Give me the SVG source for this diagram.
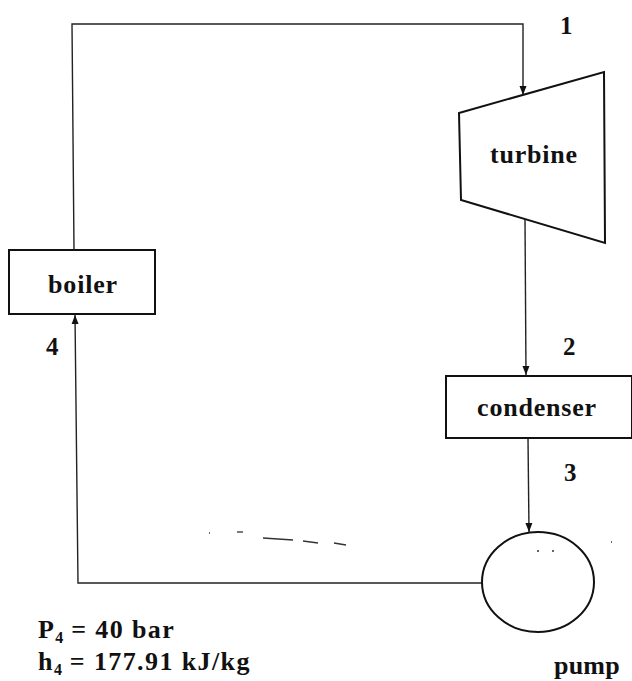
<svg xmlns="http://www.w3.org/2000/svg" width="632" height="681" viewBox="0 0 632 681">
<style>
.shape{fill:none;stroke:#111;stroke-width:2}
.wire{fill:none;stroke:#222;stroke-width:1.4}
.lbl{font-family:"Liberation Serif","Times New Roman",serif;font-weight:bold;font-size:26px;fill:#111;letter-spacing:0.8px}
.num{font-family:"Liberation Serif","Times New Roman",serif;font-weight:bold;font-size:25px;fill:#111}
.note{font-family:"Liberation Serif","Times New Roman",serif;font-weight:bold;font-size:26px;fill:#111;letter-spacing:1.4px}
.sub{font-size:16px;letter-spacing:0}
.mark{stroke:#333;stroke-width:1.3;fill:none}
</style>
<defs>
<marker id="arr" markerWidth="10" markerHeight="10" refX="9" refY="5" orient="auto" markerUnits="userSpaceOnUse">
<path d="M0,1.5 L9,5 L0,8.5 Z" fill="#111"/>
</marker>
</defs>
<g id="connectors">
<polyline class="wire" points="74,250 72,24 523,24 523,95" marker-end="url(#arr)"/>
<line class="wire" x1="525" y1="219" x2="526" y2="375" marker-end="url(#arr)"/>
<line class="wire" x1="528" y1="438" x2="529" y2="532" marker-end="url(#arr)"/>
<polyline class="wire" points="482,583 78,583 75,315" marker-end="url(#arr)"/>
</g>
<g id="turbine">
<polygon class="shape" points="459,113 604,72 605,243 461,200"/>
<text class="lbl" x="534" y="163" text-anchor="middle">turbine</text>
</g>
<g id="boiler">
<rect class="shape" x="9" y="250" width="146" height="64"/>
<text class="lbl" x="83" y="293" text-anchor="middle">boiler</text>
</g>
<g id="condenser">
<rect class="shape" x="446" y="376" width="186" height="62"/>
<text class="lbl" x="537" y="416" text-anchor="middle">condenser</text>
</g>
<g id="pump">
<ellipse class="shape" cx="538" cy="582" rx="56" ry="50"/>
<text class="lbl" x="554" y="674" style="letter-spacing:0.2px">pump</text>
</g>
<g id="labels">
<text class="num" x="560" y="34">1</text>
<text class="num" x="563" y="355">2</text>
<text class="num" x="564" y="481">3</text>
<text class="num" x="46" y="355">4</text>
<text class="note" x="38" y="638">P<tspan class="sub" dy="5">4</tspan><tspan dy="-5"> = 40 bar</tspan></text>
<text class="note" x="38" y="670">h<tspan class="sub" dy="5">4</tspan><tspan dy="-5"> = 177.91 kJ/kg</tspan></text>
</g>
<g id="marks">
<line class="mark" x1="209" y1="533" x2="210" y2="533"/>
<line class="mark" x1="237" y1="532" x2="243" y2="532"/>
<line class="mark" x1="263" y1="538" x2="293" y2="540"/>
<line class="mark" x1="303" y1="541" x2="318" y2="543"/>
<line class="mark" x1="334" y1="543" x2="346" y2="545"/>
<line class="mark" x1="537" y1="551" x2="539" y2="551"/>
<line class="mark" x1="552" y1="551" x2="554" y2="551"/>
<line class="mark" x1="611" y1="542" x2="612" y2="542"/>
</g>
</svg>
